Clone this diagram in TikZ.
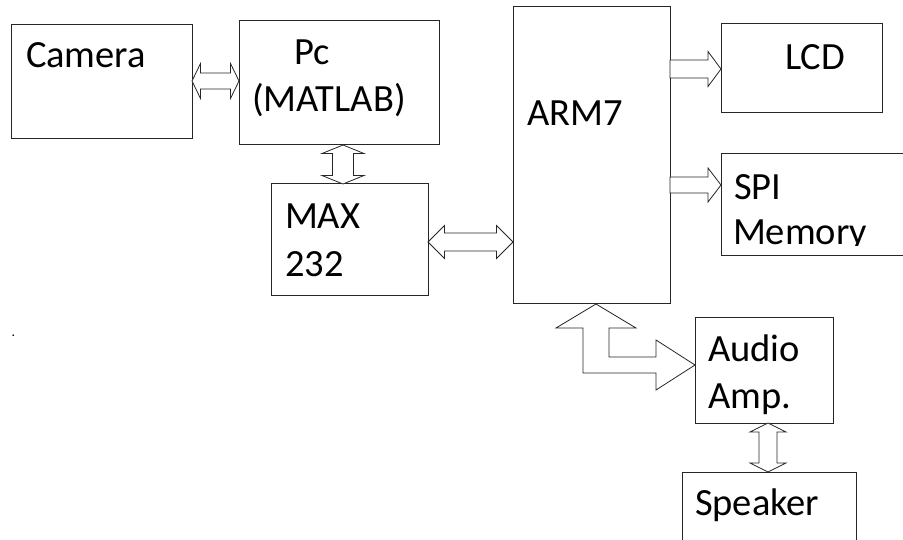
\documentclass[tikz,border=0pt]{standalone}
\usepackage{fontspec}
\setmainfont{Carlito}
\usetikzlibrary{calc}
\tikzset{
  box/.style={draw=black!85, line width=1pt, anchor=north west, inner sep=0pt, outer sep=0pt},
  lbl/.style={anchor=base west, inner sep=0pt, outer sep=0pt, font=\fontsize{38.5}{44}\selectfont},
  blk/.style={draw=black!85, line width=0.8pt, fill=white, line join=miter},
}
% horizontal double block arrow: #1 left point, #2 right point, #3 shaft half, #4 head half, #5 head length
\newcommand\hdblarrow[5]{\draw[blk] let \p1=(#1), \p2=(#2) in
  (\x1,\y1) -- (\x1+#5,\y1+#4) -- (\x1+#5,\y1+#3) -- (\x2-#5,\y1+#3) -- (\x2-#5,\y1+#4) -- (\x2,\y1)
  -- (\x2-#5,\y1-#4) -- (\x2-#5,\y1-#3) -- (\x1+#5,\y1-#3) -- (\x1+#5,\y1-#4) -- cycle;}
% vertical double block arrow: #1 top point, #2 bottom point
\newcommand\vdblarrow[5]{\draw[blk] let \p1=(#1), \p2=(#2) in
  (\x1,\y1) -- (\x1+#4,\y1-#5) -- (\x1+#3,\y1-#5) -- (\x1+#3,\y2+#5) -- (\x1+#4,\y2+#5) -- (\x1,\y2)
  -- (\x1-#4,\y2+#5) -- (\x1-#3,\y2+#5) -- (\x1-#3,\y1-#5) -- (\x1-#4,\y1-#5) -- cycle;}
% horizontal single block arrow: #1 tail point, #2 tip point
\newcommand\hsglarrow[5]{\draw[blk] let \p1=(#1), \p2=(#2) in
  (\x1,\y1+#3) -- (\x2-#5,\y1+#3) -- (\x2-#5,\y1+#4) -- (\x2,\y1) -- (\x2-#5,\y1-#4)
  -- (\x2-#5,\y1-#3) -- (\x1,\y1-#3) -- cycle;}
\begin{document}
\begin{tikzpicture}[x=1pt,y=1pt]
\useasboundingbox (0,0) rectangle (903,-540);
\fill[white] (0,0) rectangle (903,-540);

% boxes
\node[box, minimum width=181pt, minimum height=114pt] (cam) at (11,-25) {};
\node[box, minimum width=200pt, minimum height=124pt] (pc) at (239,-21) {};
\node[box, minimum width=157pt, minimum height=112pt] (max) at (271,-184) {};
\node[box, minimum width=157pt, minimum height=297pt] (arm) at (513,-7) {};
\node[box, minimum width=161pt, minimum height=89pt] (lcd) at (721,-24) {};
\node[box, minimum width=200pt, minimum height=102pt] (spi) at (721,-154) {};
\node[box, minimum width=138pt, minimum height=105pt] (aud) at (695,-318) {};
\node[box, minimum width=174pt, minimum height=100pt] (spk) at (682,-472) {};

% texts
\node[lbl] (camT) at (26,-68) {Camera};
\node[lbl] (pcT1) at (294,-65) {Pc};
\node[lbl] (pcT2) at (252,-112) {(MATLAB)};
\node[lbl] (maxT1) at (285,-229) {MAX};
\node[lbl] (maxT2) at (285,-277) {232};
\node[lbl] (armT) at (527,-126) {ARM7};
\node[lbl] (lcdT) at (785,-70) {LCD};
\node[lbl] (spiT1) at (734,-200) {SPI};
\begin{scope}
  \clip (722,-150) rectangle (903,-245.5);
  \node[lbl] (spiT2) at (733,-245) {Memory};
\end{scope}
\node[lbl] (audT1) at (708,-362) {Audio};
\node[lbl] (audT2) at (708,-408) {Amp.};
\node[lbl] (spkT) at (695,-515) {Speaker};
\node[inner sep=0pt, font=\fontsize{14}{14}\selectfont] (dot) at (13.5,-336) {.};

% connectors (block arrows)
\hdblarrow{cam.east |- 0,-81}{pc.west |- 0,-81}{8pt}{17.5pt}{8.5pt}
\vdblarrow{pc.south -| 343,0}{max.north -| 343,0}{10.5pt}{21pt}{8.5pt}
\hdblarrow{max.east |- 0,-242}{arm.west |- 0,-242}{9pt}{16.5pt}{16.5pt}
\hsglarrow{arm.east |- 0,-69}{lcd.west |- 0,-69}{9pt}{17.5pt}{13pt}
\hsglarrow{arm.east |- 0,-185}{spi.west |- 0,-185}{8pt}{17pt}{13pt}
\vdblarrow{aud.south -| 768,0}{spk.north -| 768,0}{9pt}{18pt}{9pt}
% bent double arrow ARM7 <-> Audio Amp.
\draw[blk] let \p1=(arm.south -| 596,0), \p2=(aud.west |- 0,-365) in
  (\x1,\y1) -- (\x1+40pt,\y1-24pt) -- (\x1+13pt,\y1-24pt) -- (\x1+13pt,\y2+8pt)
  -- (\x2-39pt,\y2+8pt) -- (\x2-39pt,\y2+25pt) -- (\x2,\y2) -- (\x2-39pt,\y2-25pt)
  -- (\x2-39pt,\y2-8pt) -- (\x1-13pt,\y2-8pt) -- (\x1-13pt,\y1-24pt) -- (\x1-40pt,\y1-24pt) -- cycle;
\end{tikzpicture}
\end{document}
